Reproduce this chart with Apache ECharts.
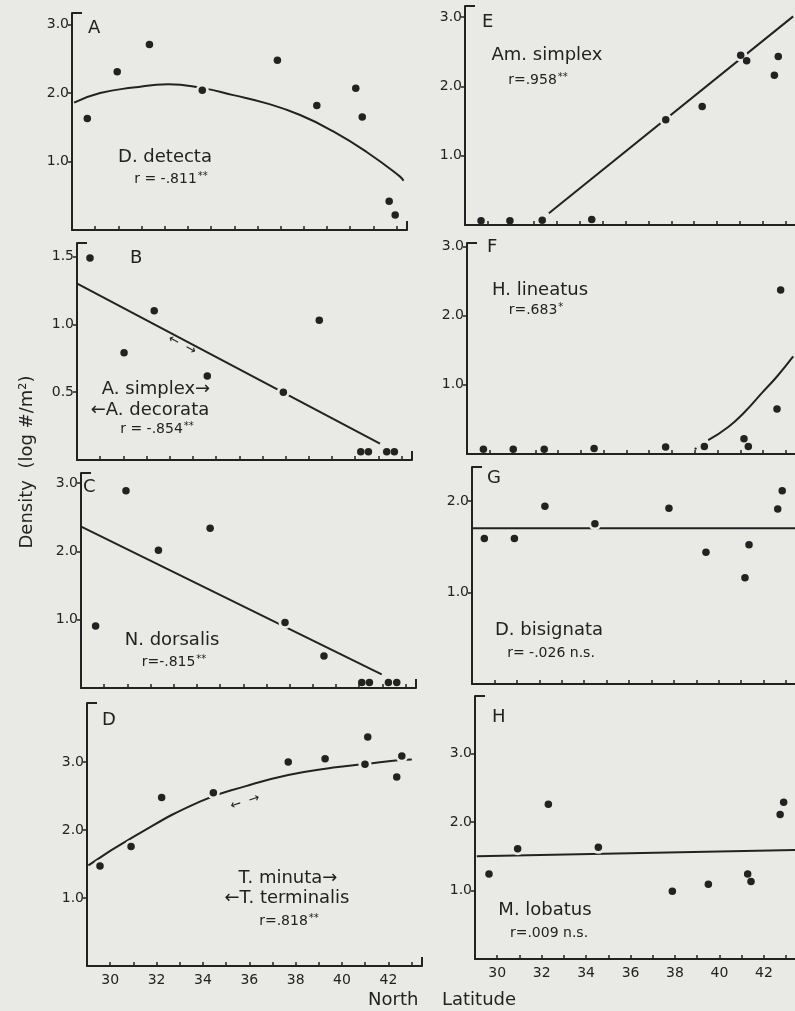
<!DOCTYPE html>
<html>
<head>
<meta charset="utf-8">
<script src="https://cdn.jsdelivr.net/npm/echarts@6/dist/echarts.min.js"></script>
<style>
html,body{margin:0;padding:0;background:#e9e9e6;}
#chart{width:795px;height:1011px;}
</style>
</head>
<body>
<div id="chart"></div>
<script>
// site latitudes (deg N) and density (log #/m2), one pair of arrays per panel
var latA = [29.66, 30.95, 32.34, 34.62, 37.86, 39.56, 41.24, 41.52, 42.68, 42.94];
var denA = [1.63, 2.31, 2.71, 2.04, 2.48, 1.82, 2.07, 1.65, 0.42, 0.22];
var latB = [29.56, 31.03, 32.33, 34.62, 37.9, 39.45, 41.24, 41.57, 42.36, 42.69];
var denB = [1.49, 0.79, 1.10, 0.62, 0.50, 1.03, 0.06, 0.06, 0.06, 0.06];
var latC = [29.63, 30.94, 32.34, 34.57, 37.8, 39.48, 41.11, 41.44, 42.26, 42.62];
var denC = [0.91, 2.89, 2.02, 2.34, 0.96, 0.47, 0.08, 0.08, 0.08, 0.08];
var latD = [29.56, 30.9, 32.22, 34.45, 37.68, 39.27, 40.99, 41.11, 42.36, 42.58];
var denD = [1.47, 1.76, 2.48, 2.55, 3.0, 3.05, 2.97, 3.37, 2.78, 3.09];
var latE = [29.7, 30.96, 32.37, 34.53, 37.76, 39.35, 41.03, 41.29, 42.5, 42.67];
var denE = [0.06, 0.06, 0.07, 0.08, 1.52, 1.71, 2.45, 2.37, 2.16, 2.43];
var latF = [29.72, 31.03, 32.39, 34.58, 37.72, 39.42, 41.16, 41.35, 42.61, 42.77];
var denF = [0.07, 0.07, 0.07, 0.08, 0.10, 0.11, 0.22, 0.11, 0.65, 2.37];
var latG = [29.55, 30.89, 32.25, 34.48, 37.78, 39.43, 41.17, 41.35, 42.63, 42.83];
var denG = [1.59, 1.59, 1.94, 1.75, 1.92, 1.44, 1.16, 1.52, 1.91, 2.11];
var latH = [29.63, 30.92, 32.3, 34.55, 37.88, 39.5, 41.27, 41.42, 42.73, 42.89];
var denH = [1.24, 1.61, 2.26, 1.63, 0.99, 1.09, 1.24, 1.13, 2.11, 2.29];

// fitted regression lines / curves
var fitLatA = [29.09, 30.21, 31.64, 33.15, 34.52, 35.96, 37.4, 38.84, 40.27, 41.71, 43.15, 43.3];
var fitDenA = [1.86, 2.0, 2.08, 2.13, 2.08, 1.97, 1.85, 1.68, 1.44, 1.14, 0.78, 0.72];
var fitLatB = [29.01, 42.07];
var fitDenB = [1.30, 0.12];
var fitLatC = [29.03, 41.97];
var fitDenC = [2.36, 0.2];
var fitLatD = [29.06, 31.0, 33.87, 35.89, 37.68, 39.63, 40.92, 42.5, 43.01];
var fitDenD = [1.48, 1.90, 2.42, 2.65, 2.81, 2.92, 2.97, 3.03, 3.04];
var fitLatE = [32.66, 43.32];
var fitDenE = [0.17, 3.01];
var fitLatF = [39.59, 40.47, 41.2, 41.94, 42.61, 43.32];
var fitDenF = [0.2, 0.39, 0.61, 0.88, 1.12, 1.41];
var tailLatF = [39.0, 39.45];
var tailDenF = [0.07, 0.16];
var fitLatG = [29, 43.4];
var fitDenG = [1.70, 1.70];
var fitLatH = [29.08, 43.4];
var fitDenH = [1.50, 1.59];

// axis ticks
var xTicks = [30, 31, 32, 33, 34, 35, 36, 37, 38, 39, 40, 41, 42, 43];
var xLabels = [30, 32, 34, 36, 38, 40, 42];
var yTicks3 = [1, 2, 3];
var yTicksB = [0.5, 1, 1.5];
var yTicksG = [1, 2];

var ink = '#222222';
var paper = '#e9e9e6';
var font = 'DejaVu Sans';

function pairs(xs, ys) {
  return xs.map(function (x, k) { return [x, ys[k]]; });
}

var panels = [
  {left: 72,  top: 13,  width: 335, height: 217, xMax: 43.45, yMax: 3.17, yTicks: yTicks3, lat: latA, den: denA, fit: pairs(fitLatA, fitDenA), smooth: true},
  {left: 77,  top: 243, width: 335, height: 217, xMax: 43.45, yMax: 1.6,  yTicks: yTicksB, lat: latB, den: denB, fit: pairs(fitLatB, fitDenB)},
  {left: 81,  top: 473, width: 335, height: 215, xMax: 43.45, yMax: 3.15, yTicks: yTicks3, lat: latC, den: denC, fit: pairs(fitLatC, fitDenC)},
  {left: 87,  top: 703, width: 335, height: 263, xMax: 43.45, yMax: 3.87, yTicks: yTicks3, lat: latD, den: denD, fit: pairs(fitLatD, fitDenD), smooth: true, labels: true},
  {left: 465, top: 6,   width: 330, height: 219, xMax: 43.4,  yMax: 3.16, yTicks: yTicks3, lat: latE, den: denE, fit: pairs(fitLatE, fitDenE), right: true},
  {left: 467, top: 243, width: 328, height: 211, xMax: 43.4,  yMax: 3.05, yTicks: yTicks3, lat: latF, den: denF, fit: pairs(fitLatF, fitDenF), smooth: true, right: true,
   tail: pairs(tailLatF, tailDenF)},
  {left: 472, top: 467, width: 323, height: 217, xMax: 43.4,  yMax: 2.37, yTicks: yTicksG, lat: latG, den: denG, fit: pairs(fitLatG, fitDenG), right: true},
  {left: 475, top: 696, width: 320, height: 263, xMax: 43.4,  yMax: 3.84, yTicks: yTicks3, lat: latH, den: denH, fit: pairs(fitLatH, fitDenH), right: true, labels: true}
];

var grids = [], xAxes = [], yAxes = [], series = [], graphics = [];

panels.forEach(function (p, i) {
  grids.push({left: p.left, top: p.top, width: p.width, height: p.height, containLabel: false});
  xAxes.push({
    type: 'value', gridIndex: i, min: 29, max: p.xMax, z: 4,
    axisLine: {onZero: false, lineStyle: {color: ink, width: 2}},
    axisTick: {inside: true, length: 4, customValues: xTicks, lineStyle: {color: ink, width: 1.5}},
    axisLabel: {show: !!p.labels, customValues: xLabels, color: ink, fontFamily: font, fontSize: 14, margin: 7},
    splitLine: {show: false}
  });
  yAxes.push({
    type: 'value', gridIndex: i, min: 0, max: p.yMax, z: 4,
    axisLine: {show: true, onZero: false, lineStyle: {color: ink, width: 2}},
    axisTick: {show: true, length: 4, customValues: p.yTicks, lineStyle: {color: ink, width: 1.5}},
    axisLabel: {customValues: p.yTicks, color: ink, fontFamily: font, fontSize: 14, margin: 3,
      formatter: function (v) { return v.toFixed(1); }},
    splitLine: {show: false}
  });
  series.push({
    type: 'line', xAxisIndex: i, yAxisIndex: i, data: p.fit, smooth: !!p.smooth,
    showSymbol: false, z: 2, silent: true,
    lineStyle: {color: ink, width: 2}
  });
  if (p.tail) {
    series.push({
      type: 'line', xAxisIndex: i, yAxisIndex: i, data: p.tail, showSymbol: false, z: 2, silent: true,
      lineStyle: {color: ink, width: 2, type: 'dotted'}
    });
  }
  var pts = pairs(p.lat, p.den);
  // paper-coloured halo so the fitted line breaks around each dot
  series.push({
    type: 'scatter', xAxisIndex: i, yAxisIndex: i, data: pts, symbolSize: 13, z: 3, silent: true,
    itemStyle: {color: paper, opacity: 1}
  });
  series.push({
    type: 'scatter', xAxisIndex: i, yAxisIndex: i, data: pts, symbolSize: 7.5, z: 5,
    itemStyle: {color: ink, opacity: 1}
  });
  // little bracket at top of y axis and at the right end of the x axis
  graphics.push({type: 'line', shape: {x1: p.left, y1: p.top, x2: p.left + 10, y2: p.top},
    style: {stroke: ink, lineWidth: 2}});
  if (!p.right) {
    graphics.push({type: 'line', shape: {x1: p.left + p.width, y1: p.top + p.height, x2: p.left + p.width, y2: p.top + p.height - 9},
      style: {stroke: ink, lineWidth: 2}});
  }
});

function txt(x, y, s, size, align, rot) {
  return {
    type: 'text', x: x, y: y, rotation: rot || 0, z: 10,
    style: {
      text: s, fill: ink, font: size + 'px "' + font + '"', fontFamily: font, fontSize: size,
      align: align || 'center', verticalAlign: 'middle',
      rich: {
        s: {fontSize: 10, fontFamily: font, fill: ink, verticalAlign: 'top', padding: [0, 0, 6, 1]}
      }
    }
  };
}

var notes = [
  txt(88, 28, 'A', 18, 'left'),
  txt(165, 157, 'D. detecta', 18),
  txt(171, 179, 'r = -.811{s|**}', 14),

  txt(130, 258, 'B', 18, 'left'),
  txt(156, 389, 'A. simplex\u2192', 18),
  txt(150, 410, '\u2190A. decorata', 18),
  txt(157, 429, 'r = -.854{s|**}', 14),
  txt(182, 345, '\u2190  \u2192', 13, 'center', -0.49),

  txt(83, 487, 'C', 18, 'left'),
  txt(172, 640, 'N. dorsalis', 18),
  txt(174, 662, 'r=-.815{s|**}', 14),

  txt(102, 720, 'D', 18, 'left'),
  txt(288, 878, 'T. minuta\u2192', 18),
  txt(287, 898, '\u2190T. terminalis', 18),
  txt(289, 921, 'r=.818{s|**}', 14),
  txt(245, 802, '\u2190  \u2192', 13, 'center', 0.3),

  txt(482, 22, 'E', 18, 'left'),
  txt(547, 55, 'Am. simplex', 18),
  txt(538, 80, 'r=.958{s|**}', 14),

  txt(487, 247, 'F', 18, 'left'),
  txt(540, 290, 'H. lineatus', 18),
  txt(536, 310, 'r=.683{s|*}', 14),

  txt(487, 478, 'G', 18, 'left'),
  txt(549, 630, 'D. bisignata', 18),
  txt(551, 653, 'r= -.026 n.s.', 14),

  txt(492, 717, 'H', 18, 'left'),
  txt(545, 910, 'M. lobatus', 18),
  txt(549, 933, 'r=.009 n.s.', 14),

  txt(27, 462, 'Density  (log #/m\u00b2)', 18, 'center', Math.PI / 2),
  txt(368, 1000, 'North', 18, 'left'),
  txt(442, 1000, 'Latitude', 18, 'left')
];

var chart = echarts.init(document.getElementById('chart'));
var option = {
  backgroundColor: paper,
  animation: false,
  grid: grids,
  xAxis: xAxes,
  yAxis: yAxes,
  series: series,
  graphic: graphics.concat(notes)
};
chart.setOption(option);
</script>
</body>
</html>
